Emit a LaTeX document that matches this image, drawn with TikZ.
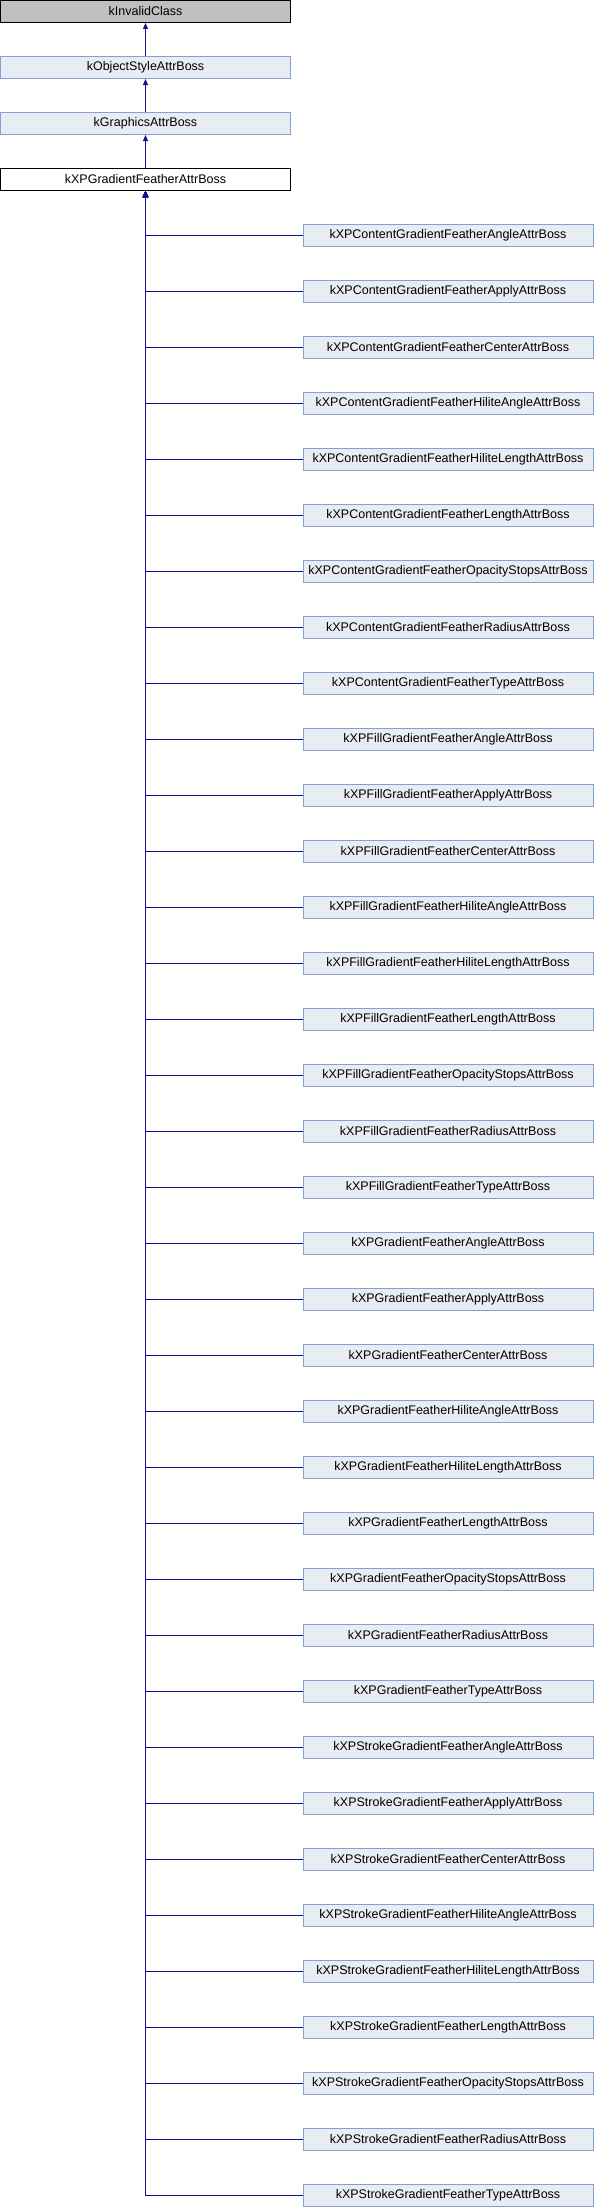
\documentclass[tikz,border=0pt]{standalone}
\usepackage{fontspec}
\setmainfont{Liberation Sans}
\usetikzlibrary{arrows.meta}
\definecolor{boxfill}{HTML}{E8ECF5}
\definecolor{boxline}{HTML}{84A0D0}
\definecolor{grayfill}{HTML}{BFBFBF}
\definecolor{edgecol}{HTML}{10108C}
\begin{document}
\begin{tikzpicture}[x=1pt,y=-1pt,
  cls/.style={draw=boxline,fill=boxfill,line width=1pt,minimum width=290pt,minimum height=22pt,inner sep=0pt,font=\fontsize{12.5}{14}\selectfont},
  rootcls/.style={cls,draw=black,fill=grayfill},
  curcls/.style={cls,draw=black,fill=white},
  inh/.style={draw=edgecol,line width=1pt,-{Triangle[width=5pt,length=6pt]}}]
\useasboundingbox (0,0) rectangle (594,2208);
\node[rootcls] (root) at (145.5,11.5) {kInvalidClass};
\node[cls] (osa) at (145.5,67.5) {kObjectStyleAttrBoss};
\node[cls] (ga) at (145.5,123.5) {kGraphicsAttrBoss};
\node[curcls] (main) at (145.5,179.5) {kXPGradientFeatherAttrBoss};
\draw[inh] (osa) -- (root);
\draw[inh] (ga) -- (osa);
\draw[inh] (main) -- (ga);
\foreach \pre [count=\i from 0] in {Content,Fill,,Stroke}{
  \foreach \suf [count=\j from 0] in {Angle,Apply,Center,HiliteAngle,HiliteLength,Length,OpacityStops,Radius,Type}{
    \pgfmathtruncatemacro{\k}{\i*9+\j}
    \node[cls] (c\k) at (448,235.5+56*\k) {kXP\pre GradientFeather\suf AttrBoss};
    \draw[inh] (c\k.west) -| (main.south);
  }
}
\end{tikzpicture}
\end{document}
